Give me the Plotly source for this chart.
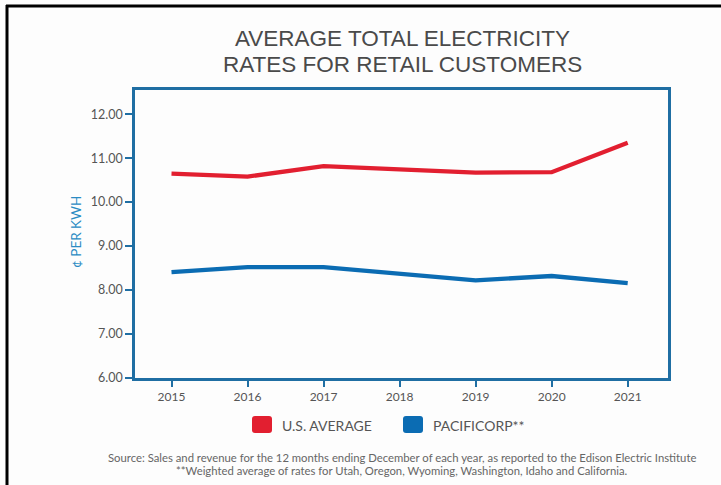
import plotly.graph_objects as go

years = [2015, 2016, 2017, 2018, 2019, 2020, 2021]
us_average = [10.65, 10.58, 10.82, 10.74, 10.67, 10.68, 11.35]
pacificorp = [8.41, 8.52, 8.52, 8.37, 8.22, 8.32, 8.16]
series_names = ["U.S. AVERAGE", "PACIFICORP**"]
y_ticks = [6, 7, 8, 9, 10, 11, 12]
y_tick_labels = ["6.00", "7.00", "8.00", "9.00", "10.00", "11.00", "12.00"]

RED = "#e21f30"
BLUE = "#0b6cb3"
AXIS = "#1f6ea3"
FONT = "Lato"
TITLE_FONT = "Liberation Sans"

W, H = 721, 485
L, R, T, B = 135, 53, 90, 107
PW, PH = W - L - R, H - T - B


def px(x):
    return (x - L) / PW


def py(y):
    return (H - B - y) / PH


fig = go.Figure()
fig.add_trace(go.Scatter(x=years, y=us_average, mode="lines", name=series_names[0],
                         line=dict(color=RED, width=4.3), showlegend=False))
fig.add_trace(go.Scatter(x=years, y=pacificorp, mode="lines", name=series_names[1],
                         line=dict(color=BLUE, width=4.3), showlegend=False))

shapes = [
    # outer black frame (top and left)
    dict(type="line", xref="paper", yref="paper", x0=px(6), x1=px(722), y0=py(6), y1=py(6),
         line=dict(color="black", width=3)),
    dict(type="line", xref="paper", yref="paper", x0=px(7), x1=px(7), y0=py(5), y1=py(486),
         line=dict(color="black", width=3)),
]


def rounded_rect(x0, y0, x1, y1, r, color):
    X0, X1 = px(x0), px(x1)
    Y0, Y1 = py(y0), py(y1)
    rx, ry = r / PW, r / PH
    path = (f"M {X0+rx},{Y0} L {X1-rx},{Y0} Q {X1},{Y0} {X1},{Y0-ry} "
            f"L {X1},{Y1+ry} Q {X1},{Y1} {X1-rx},{Y1} L {X0+rx},{Y1} "
            f"Q {X0},{Y1} {X0},{Y1+ry} L {X0},{Y0-ry} Q {X0},{Y0} {X0+rx},{Y0} Z")
    return dict(type="path", xref="paper", yref="paper", path=path,
                fillcolor=color, line=dict(width=0))


shapes.append(rounded_rect(252, 416, 272, 433, 3, RED))
shapes.append(rounded_rect(403, 416, 423, 433, 3, BLUE))

annotations = [
    dict(text="AVERAGE TOTAL ELECTRICITY", x=px(402), y=py(38.5), xref="paper", yref="paper",
         showarrow=False, xanchor="center", yanchor="middle", borderpad=0,
         font=dict(family=TITLE_FONT, size=22.5, color="#4a4a4a")),
    dict(text="RATES FOR RETAIL CUSTOMERS", x=px(402), y=py(64.8), xref="paper", yref="paper",
         showarrow=False, xanchor="center", yanchor="middle", borderpad=0,
         font=dict(family=TITLE_FONT, size=22.5, color="#4a4a4a")),
    dict(text="¢ PER KWH", x=px(76), y=py(232), xref="paper", yref="paper", textangle=-90,
         showarrow=False, xanchor="center", yanchor="middle",
         font=dict(family=FONT, size=13.5, color="#2a8bc3")),
    dict(text=series_names[0], x=px(280), y=py(425), xref="paper", yref="paper",
         showarrow=False, xanchor="left", yanchor="middle",
         font=dict(family=FONT, size=14, color="#555555")),
    dict(text=series_names[1], x=px(431), y=py(425), xref="paper", yref="paper",
         showarrow=False, xanchor="left", yanchor="middle",
         font=dict(family=FONT, size=14, color="#555555")),
    dict(text="Source: Sales and revenue for the 12 months ending December of each year, as reported to the Edison Electric Institute",
         x=px(402), y=py(457), xref="paper", yref="paper",
         showarrow=False, xanchor="center", yanchor="middle",
         font=dict(family=FONT, size=11.3, color="#666666")),
    dict(text="**Weighted average of rates for Utah, Oregon, Wyoming, Washington, Idaho and California.",
         x=px(402), y=py(470), xref="paper", yref="paper",
         showarrow=False, xanchor="center", yanchor="middle",
         font=dict(family=FONT, size=11.3, color="#666666")),
]

fig.update_layout(
    width=W, height=H, autosize=False,
    margin=dict(l=L, r=R, t=T, b=B, pad=0),
    paper_bgcolor="#fdfdfd", plot_bgcolor="#fdfdfd",
    font=dict(family=FONT, color="#555555"),
    showlegend=False,
    shapes=shapes, annotations=annotations,
    xaxis=dict(range=[2014.52, 2021.53], tickmode="array", tickvals=years,
               ticktext=[str(y) for y in years],
               showgrid=False, zeroline=False, showline=True, linecolor=AXIS, linewidth=2.5,
               mirror=True, ticks="outside", ticklen=6, tickwidth=2, tickcolor=AXIS,
               tickfont=dict(family=FONT, size=12, color="#555555")),
    yaxis=dict(range=[6, 12.55], tickmode="array", tickvals=y_ticks, ticktext=y_tick_labels,
               showgrid=False, zeroline=False, showline=True, linecolor=AXIS, linewidth=2.5,
               mirror=True, ticks="outside", ticklen=7, tickwidth=2, tickcolor=AXIS,
               tickfont=dict(family=FONT, size=12.5, color="#555555")),
)

fig.write_html("out.html", config={"displayModeBar": False},
               post_script="document.body.style.margin='0';document.body.style.overflow='hidden';")
